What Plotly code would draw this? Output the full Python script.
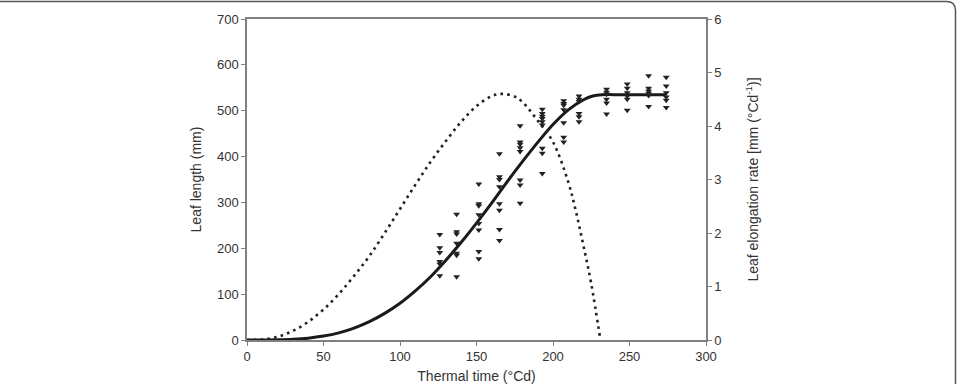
import plotly.graph_objects as go

# Observed leaf lengths (mm) at thermal times (°Cd)
obs_t = (
    [126] * 6 + [137] * 7 + [151.5] * 8 + [165] * 8 + [178.5] * 8 + [193] * 9
    + [207] * 7 + [217] * 6 + [235] * 6 + [248.5] * 6 + [262.5] * 6 + [274] * 6
)
obs_len = [
    230, 201, 191, 171, 166, 140,
    274, 236, 231, 211, 189, 185, 138,
    340, 297, 293, 273, 254, 240, 193, 177,
    406, 356, 350, 334, 297, 283, 241, 217,
    467, 432, 427, 419, 411, 349, 338, 298,
    503, 494, 488, 483, 476, 469, 418, 407, 363,
    522, 516, 512, 502, 474, 442, 432,
    532, 525, 520, 494, 487, 476,
    547, 540, 536, 525, 517, 493,
    558, 549, 539, 532, 525, 501,
    576, 549, 543, 538, 533, 509,
    573, 554, 539, 530, 523, 507,
]

# Fitted leaf length curve (mm)
fit_t = [0, 10, 20, 30, 40, 50, 60, 70, 80, 90, 100, 110, 120, 130, 140, 150,
         160, 170, 180, 190, 200, 210, 220, 226, 232, 240, 250, 260, 274]
fit_len = [0, 0, 0.4, 1.5, 4, 8.5, 15.6, 26, 40, 58, 80, 107, 138, 174, 213, 255,
           299, 345, 389, 431, 470, 502, 524, 532, 535, 535, 535, 535, 535]

# Leaf elongation rate curve (mm °Cd-1)
rate_t = [0, 10, 20, 30, 40, 50, 60, 70, 80, 90, 100, 110, 120, 130, 140, 150,
          160, 167, 175, 180, 190, 200, 210, 215, 220, 225, 231]
rate_val = [0, 0.01, 0.06, 0.17, 0.34, 0.57, 0.86, 1.2, 1.57, 2.0, 2.45, 2.9, 3.33,
            3.72, 4.08, 4.37, 4.56, 4.6, 4.55, 4.45, 4.1, 3.7, 2.95, 2.4, 1.75, 1.05, 0]

x_ticks = [0, 50, 100, 150, 200, 250, 300]
y_ticks = [0, 100, 200, 300, 400, 500, 600, 700]
y2_ticks = [0, 1, 2, 3, 4, 5, 6]

fig = go.Figure()
fig.add_trace(go.Scatter(
    x=rate_t, y=rate_val, yaxis="y2", mode="lines",
    line=dict(color="#222222", width=2.6, dash="2.6px,4.2px", shape="spline"),
    showlegend=False, hoverinfo="skip"))
fig.add_trace(go.Scatter(
    x=fit_t, y=fit_len, mode="lines",
    line=dict(color="#1a1a1a", width=3, shape="spline"),
    showlegend=False))
fig.add_trace(go.Scatter(
    x=obs_t, y=obs_len, mode="markers",
    marker=dict(symbol="triangle-down", size=6, color="#222222"),
    showlegend=False))

axis_col = "#808080"
font_col = "#333333"
fam = "Liberation Sans, Arial, sans-serif"
tickfont = dict(family=fam, size=13, color=font_col)
titlefont = dict(family=fam, size=14, color=font_col)

L, R, T, B = 247, 251, 19, 44
W, H = 957, 384
pw, ph = W - L - R, H - T - B

def px(x):
    return (x - L) / pw

def py(y):
    return (H - B - y) / ph

rx, ry = 9 / pw, 9 / ph
frame = (f"M {px(-5)},{py(1.5)} L {px(955.5)-rx},{py(1.5)} "
         f"Q {px(955.5)},{py(1.5)} {px(955.5)},{py(1.5)-ry} L {px(955.5)},{py(390)}")

fig.update_layout(
    width=W, height=H,
    margin=dict(l=L, r=R, t=T, b=B),
    paper_bgcolor="white", plot_bgcolor="white",
    font=tickfont,
    xaxis=dict(range=[0, 300], tickvals=x_ticks, ticks="outside", ticklen=4,
               tickcolor=axis_col, showline=True, linecolor=axis_col, linewidth=1.5,
               mirror=True, showgrid=False, zeroline=False, tickfont=tickfont,
               automargin=False,
               title=dict(text="Thermal time (°Cd)", font=titlefont, standoff=8)),
    yaxis=dict(range=[0, 700], tickvals=y_ticks, ticks="outside", ticklen=4,
               tickcolor=axis_col, showline=True, linecolor=axis_col, linewidth=1.5,
               showgrid=False, zeroline=False, tickfont=tickfont, automargin=False,
               title=dict(text="Leaf length (mm)", font=titlefont, standoff=12)),
    yaxis2=dict(range=[0, 6], tickvals=y2_ticks, ticks="outside", ticklen=4,
                tickcolor=axis_col, showline=True, linecolor=axis_col, linewidth=1.5,
                overlaying="y", side="right", showgrid=False, zeroline=False,
                tickfont=tickfont, automargin=False,
                title=dict(text="Leaf elongation rate [mm (°Cd<sup>-1</sup>)]",
                           font=titlefont, standoff=28)),
    shapes=[dict(type="path", xref="paper", yref="paper", path=frame,
                 line=dict(color="#555555", width=1.5))],
)

fig.write_html("out.html")
